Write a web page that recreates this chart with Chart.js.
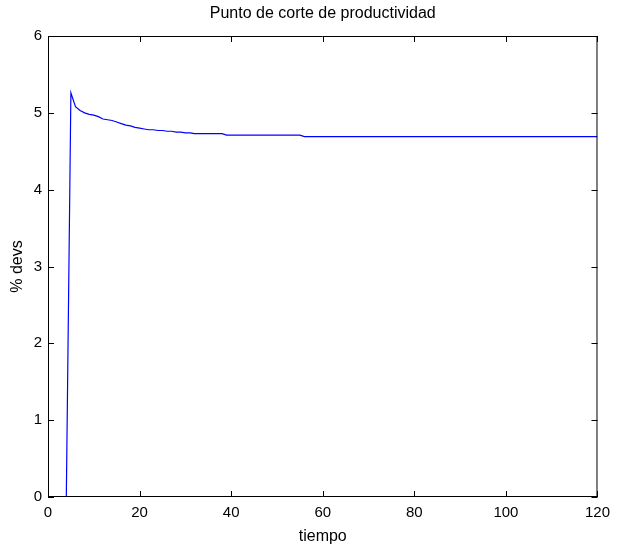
<!DOCTYPE html>
<html>
<head>
<meta charset="utf-8">
<script src="https://cdn.jsdelivr.net/npm/chart.js@4.4.1/dist/chart.umd.min.js"></script>
<style>
  html, body { margin: 0; padding: 0; background: #fff; }
  canvas { display: block; }
</style>
</head>
<body>
<canvas id="grafico" width="617" height="554"></canvas>
<script>
// datos
const tiempo = [0, 1, 2, 3, 4, 5, 6, 7, 8, 9, 10, 11, 12, 13, 14, 15, 16, 17, 18, 19, 20,
    21, 22, 23, 24, 25, 26, 27, 28, 29, 30, 31, 32, 38, 39, 55, 56, 120];
const devs = [0, 0, 0, 0, 0, 5.26, 5.08, 5.03, 5.00, 4.98, 4.97, 4.95, 4.92, 4.91, 4.90, 4.88, 4.86, 4.84, 4.83, 4.81, 4.80,
    4.79, 4.78, 4.78, 4.77, 4.77, 4.76, 4.76, 4.75, 4.75, 4.74, 4.74, 4.73, 4.73, 4.71, 4.71, 4.69, 4.69];
const ticksX = [0, 20, 40, 60, 80, 100, 120];
const ticksY = [0, 1, 2, 3, 4, 5, 6];

Chart.defaults.font.family = '"Liberation Sans", Arial, sans-serif';
Chart.defaults.color = '#000';

// caja y marcas hacia adentro, estilo matlab
const cajaPlugin = {
    id: 'caja',
    afterDraw(chart) {
        const ctx = chart.ctx;
        const { left, right, top, bottom } = chart.chartArea;
        const x = chart.scales.x, y = chart.scales.y;
        const largo = 6;
        ctx.save();
        ctx.strokeStyle = '#000';
        ctx.lineWidth = 1;
        ctx.beginPath();
        ctx.rect(left + 0.5, top + 0.5, right - left - 1, bottom - top - 1);
        x.ticks.forEach(t => {
            const px = Math.round(x.getPixelForValue(t.value)) + 0.5;
            ctx.moveTo(px, bottom); ctx.lineTo(px, bottom - largo);
            ctx.moveTo(px, top); ctx.lineTo(px, top + largo);
        });
        y.ticks.forEach(t => {
            const py = Math.round(y.getPixelForValue(t.value)) + 0.5;
            ctx.moveTo(left, py); ctx.lineTo(left + largo, py);
            ctx.moveTo(right, py); ctx.lineTo(right - largo, py);
        });
        ctx.stroke();
        ctx.restore();
    }
};

new Chart(document.getElementById('grafico'), {
    type: 'line',
    data: {
        datasets: [{
            data: tiempo.map((t, i) => ({ x: t, y: devs[i] })),
            borderColor: '#0000ff',
            borderWidth: 1.2,
            pointRadius: 0,
            tension: 0,
            fill: false
        }]
    },
    options: {
        responsive: false,
        animation: false,
        layout: { padding: { left: 0, right: 16, top: 0, bottom: 0 } },
        plugins: {
            legend: { display: false },
            tooltip: { enabled: false },
            title: {
                display: true,
                text: 'Punto de corte de productividad',
                fullSize: false,
                font: { size: 16, weight: 'normal' },
                padding: { top: 4, bottom: 12.8 }
            }
        },
        scales: {
            x: {
                type: 'linear',
                min: 0,
                max: 120,
                afterBuildTicks: s => { s.ticks = ticksX.map(v => ({ value: v })); },
                afterFit: s => { s.height = 57; },
                grid: { display: false, drawTicks: false },
                border: { display: false },
                ticks: { font: { size: 15 }, padding: 7, maxRotation: 0 },
                title: { display: true, text: 'tiempo', font: { size: 16 }, padding: { top: 0, bottom: 8 } }
            },
            y: {
                min: 0,
                max: 6,
                afterBuildTicks: s => { s.ticks = ticksY.map(v => ({ value: v })); },
                afterFit: s => { s.width = 48; },
                grid: { display: false, drawTicks: false },
                border: { display: false },
                ticks: { font: { size: 15 }, padding: 6 },
                title: { display: true, text: '% devs', font: { size: 16 }, padding: { top: 8, bottom: 0 } }
            }
        }
    },
    plugins: [cajaPlugin]
});
</script>
</body>
</html>
